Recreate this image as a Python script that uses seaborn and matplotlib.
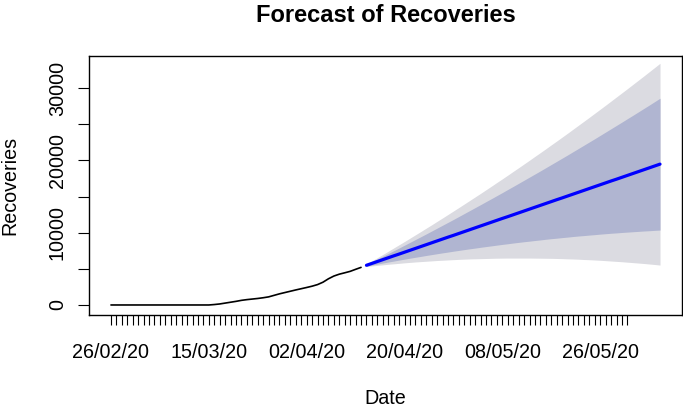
import matplotlib
matplotlib.use("Agg")

import matplotlib.pyplot as plt
import matplotlib.ticker as mticker
import matplotlib.dates as mdates
import seaborn as sns
import pandas as pd

# observed recoveries, one value per day from 26/02/20
start_date = "2020-02-26"
recoveries = [
    0, 0, 0, 0, 0, 0, 0, 0, 0, 0, 0, 0, 0, 0, 0, 0, 0, 0, 0,
    60, 140, 260, 380, 500, 640, 740, 820, 900, 1000, 1120,
    1330, 1540, 1720, 1900, 2080, 2250, 2420, 2600, 2820, 3150,
    3620, 4000, 4260, 4450, 4650, 4930, 5200,
]

# point forecast and prediction intervals (55 days ahead)
fc_mean = [
    5490, 5750, 6010, 6270, 6530, 6790, 7040, 7300, 7560, 7820,
    8080, 8340, 8600, 8860, 9120, 9380, 9630, 9890, 10150, 10410,
    10670, 10930, 11190, 11450, 11710, 11970, 12220, 12480, 12740, 13000,
    13260, 13520, 13780, 14040, 14300, 14560, 14810, 15070, 15330, 15590,
    15850, 16110, 16370, 16630, 16890, 17150, 17400, 17660, 17920, 18180,
    18440, 18700, 18960, 19220, 19480,
]
fc_lo80 = [
    5380, 5520, 5660, 5800, 5940, 6070, 6210, 6340, 6470, 6600,
    6720, 6850, 6970, 7090, 7210, 7320, 7440, 7550, 7660, 7770,
    7870, 7980, 8080, 8180, 8280, 8380, 8470, 8570, 8660, 8750,
    8830, 8920, 9000, 9090, 9170, 9240, 9320, 9390, 9470, 9540,
    9600, 9670, 9730, 9800, 9860, 9920, 9970, 10030, 10080, 10130,
    10180, 10230, 10270, 10320, 10360,
]
fc_hi80 = [
    5600, 5980, 6360, 6730, 7120, 7500, 7880, 8270, 8660, 9050,
    9440, 9830, 10230, 10630, 11030, 11430, 11830, 12240, 12650, 13060,
    13470, 13880, 14300, 14710, 15130, 15550, 15980, 16400, 16830, 17260,
    17690, 18120, 18550, 18990, 19430, 19870, 20310, 20750, 21200, 21650,
    22100, 22550, 23000, 23460, 23920, 24380, 24840, 25300, 25770, 26230,
    26700, 27170, 27640, 28120, 28600,
]
fc_lo95 = [
    5320, 5400, 5480, 5550, 5630, 5690, 5760, 5830, 5890, 5950,
    6000, 6050, 6100, 6150, 6190, 6230, 6270, 6310, 6340, 6370,
    6390, 6410, 6430, 6450, 6470, 6480, 6490, 6490, 6490, 6490,
    6490, 6480, 6470, 6460, 6450, 6430, 6410, 6380, 6360, 6330,
    6290, 6260, 6220, 6180, 6130, 6080, 6030, 5980, 5920, 5860,
    5800, 5740, 5670, 5600, 5520,
]
fc_hi95 = [
    5660, 6100, 6540, 6980, 7430, 7880, 8330, 8780, 9240, 9700,
    10160, 10630, 11090, 11570, 12040, 12520, 13000, 13480, 13970, 14460,
    14950, 15440, 15940, 16440, 16950, 17450, 17960, 18480, 18990, 19510,
    20030, 20560, 21080, 21610, 22150, 22680, 23220, 23760, 24310, 24860,
    25410, 25960, 26520, 27080, 27640, 28210, 28780, 29350, 29920, 30500,
    31080, 31660, 32250, 32840, 33430,
]

date_labels = ["26/02/20", "15/03/20", "02/04/20", "20/04/20", "08/05/20", "26/05/20"]
last_tick_date = "2020-05-31"
y_ticks = [0, 5000, 10000, 15000, 20000, 25000, 30000]

hist = pd.DataFrame({
    "Date": pd.date_range(start_date, periods=len(recoveries), freq="D"),
    "Recoveries": recoveries,
})
fc = pd.DataFrame({
    "Date": pd.date_range(hist["Date"].iloc[-1] + pd.Timedelta(days=1),
                          periods=len(fc_mean), freq="D"),
    "mean": fc_mean, "lo80": fc_lo80, "hi80": fc_hi80,
    "lo95": fc_lo95, "hi95": fc_hi95,
})

sns.set_theme(style="white")
plt.rcParams["font.family"] = ["Liberation Sans", "DejaVu Sans"]
plt.rcParams.update({
    "text.color": "black",
    "axes.labelcolor": "black",
    "xtick.color": "black",
    "ytick.color": "black",
})

fig = plt.figure(figsize=(6.83, 4.08), dpi=100)
ax = fig.add_axes([0.1303, 0.228, 0.8682, 0.6355])

ax.fill_between(fc["Date"], fc["lo95"], fc["hi95"], color="#DBDBE1", lw=0)
ax.fill_between(fc["Date"], fc["lo80"], fc["hi80"], color="#B0B5D1", lw=0)
sns.lineplot(data=hist, x="Date", y="Recoveries", color="black", lw=1.2, ax=ax)
sns.lineplot(data=fc, x="Date", y="mean", color="#0000FF", lw=2.3, ax=ax)

# R-style 4% padding around the data range
x0 = hist["Date"].iloc[0]
x1 = fc["Date"].iloc[-1]
span = (x1 - x0) * 0.04
ax.set_xlim(x0 - span, x1 + span)
ax.set_ylim(-1383, 34480)

# x axis: a tick every day, labels every 18 days
label_pos = pd.to_datetime(date_labels, format="%d/%m/%y")
ax.xaxis.set_major_locator(mticker.FixedLocator(mdates.date2num(label_pos)))
ax.xaxis.set_major_formatter(mticker.FixedFormatter(date_labels))
minor_pos = pd.date_range(start_date, last_tick_date, freq="D")
ax.xaxis.set_minor_locator(mticker.FixedLocator(mdates.date2num(minor_pos)))

ax.yaxis.set_major_locator(mticker.FixedLocator(y_ticks))
ax.yaxis.set_major_formatter(
    mticker.FuncFormatter(lambda v, p: f"{int(v)}" if v % 10000 == 0 else ""))

ax.tick_params(axis="x", which="both", bottom=True, length=7.5, width=0.8,
               color="black", direction="out", labelsize=14.2, pad=13)
ax.tick_params(axis="y", which="major", left=True, length=8, width=0.8,
               color="black", direction="out", labelsize=14.2, pad=8)
for lab in ax.get_yticklabels():
    lab.set_rotation(90)
    lab.set_va("center")

for s in ax.spines.values():
    s.set_color("black")
    s.set_linewidth(1.0)

ax.set_xlabel("Date", fontsize=14.2)
ax.set_ylabel("Recoveries", fontsize=14.2)
ax.xaxis.set_label_coords(0.5, -0.322)
ax.xaxis.label.set_va("center")
ax.yaxis.set_label_coords(-0.134, 0.5)
ax.yaxis.label.set_va("center")
ax.set_title("Forecast of Recoveries", fontsize=17, fontweight="bold",
             pad=24, color="black")

fig.savefig("out.png", dpi=100)
plt.close(fig)
